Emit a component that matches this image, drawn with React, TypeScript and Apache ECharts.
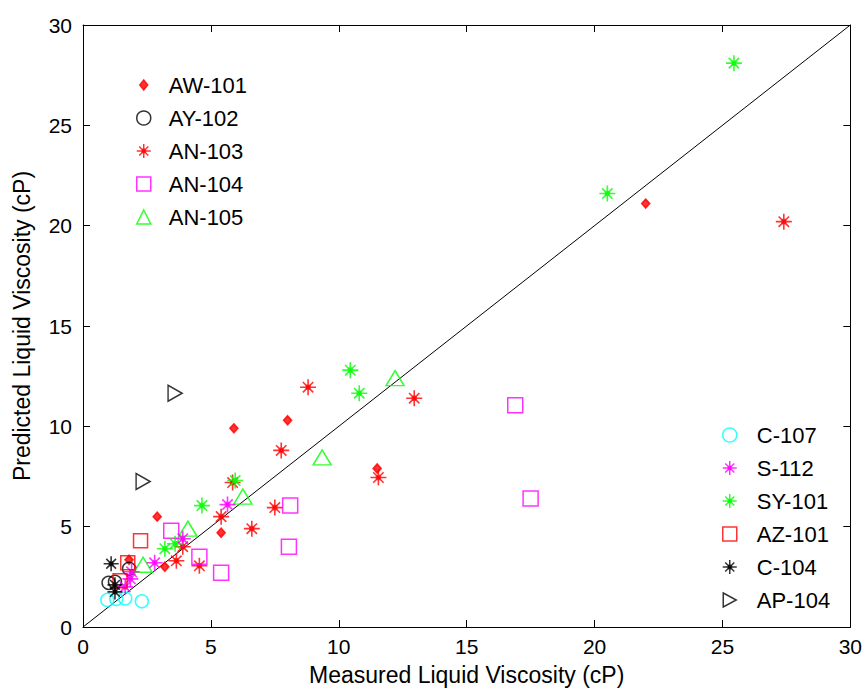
import React, { useEffect, useRef } from "react";
import * as echarts from "echarts";

const FONT = "'Liberation Sans', Arial, sans-serif";

const xTitle = "Measured Liquid Viscosity (cP)";
const yTitle = "Predicted Liquid Viscosity (cP)";

const legendTop = ["AW-101", "AY-102", "AN-103", "AN-104", "AN-105"];
const legendBottom = ["C-107", "S-112", "SY-101", "AZ-101", "C-104", "AP-104"];

const aw101 = [[22.0, 21.1], [5.9, 9.9], [8.0, 10.3], [2.9, 5.5], [5.4, 4.7], [3.2, 3.0], [11.5, 7.9], [1.8, 3.35]];
const ay102 = [[1.0, 2.2], [1.25, 2.25], [1.8, 2.9]];
const an103 = [[27.4, 20.2], [12.95, 11.4], [8.8, 11.95], [7.75, 8.8], [11.55, 7.45], [7.5, 5.95], [6.6, 4.9], [5.4, 5.5], [5.85, 7.2], [4.55, 3.05], [3.65, 3.3], [3.9, 4.0]];
const an104 = [[16.9, 11.05], [17.5, 6.4], [8.1, 6.05], [8.05, 4.0], [3.45, 4.8], [4.55, 3.5], [5.4, 2.7]];
const an105 = [[12.2, 12.4], [9.35, 8.45], [6.25, 6.5], [4.1, 4.9], [2.35, 3.1]];
const c107 = [[0.95, 1.35], [1.3, 1.4], [1.65, 1.42], [2.3, 1.28]];
const s112 = [[5.65, 6.1], [3.9, 4.4], [2.8, 3.2], [1.9, 2.75], [1.85, 2.4], [1.65, 2.0]];
const sy101 = [[25.45, 28.1], [20.5, 21.6], [10.45, 12.8], [10.8, 11.65], [4.65, 6.05], [5.95, 7.3], [3.2, 3.9], [3.6, 4.15]];
const az101 = [[2.25, 4.3], [1.75, 3.2], [1.45, 2.3]];
const c104 = [[1.1, 3.15], [1.25, 2.1], [1.25, 1.75]];
const ap104 = [[3.6, 11.65], [2.35, 7.25]];
const parityLine = [[0, 0], [30, 30]];

const STAR = "path://M0,-10L0,10M-10,0L10,0M-6.5,-6.5L6.5,6.5M-6.5,6.5L6.5,-6.5M-2.5,-2.5L2.5,-2.5L2.5,2.5L-2.5,2.5Z";
const SMALL_DIAMOND_ICON = "path://M-7,-7L-7,-7M7,7L7,7M0,-5L4,0L0,5L-4,0Z";
const RIGHT_TRIANGLE_ICON = "path://M-6,-7L7,0L-6,7Z";

type Spec = { name: string; data: number[][]; symbol: string; size: number | number[]; color: string; hollow: boolean; rotate?: number };

const specs: Spec[] = [
  { name: "AW-101", data: aw101, symbol: "diamond", size: [8, 9], color: "#ff0000", hollow: false },
  { name: "AY-102", data: ay102, symbol: "circle", size: 13, color: "#000000", hollow: true },
  { name: "AN-103", data: an103, symbol: STAR, size: 16, color: "#ff0000", hollow: false },
  { name: "AN-104", data: an104, symbol: "rect", size: 15, color: "#ff00ff", hollow: true },
  { name: "AN-105", data: an105, symbol: "triangle", size: [18, 15], color: "#00ff00", hollow: true },
  { name: "C-107", data: c107, symbol: "circle", size: 13, color: "#00ffff", hollow: true },
  { name: "S-112", data: s112, symbol: STAR, size: 16, color: "#ff00ff", hollow: false },
  { name: "SY-101", data: sy101, symbol: STAR, size: 16, color: "#00ff00", hollow: false },
  { name: "AZ-101", data: az101, symbol: "rect", size: 14, color: "#ff0000", hollow: true },
  { name: "C-104", data: c104, symbol: STAR, size: 15, color: "#000000", hollow: false },
  { name: "AP-104", data: ap104, symbol: "triangle", size: [16, 14], color: "#000000", hollow: true, rotate: -90 },
];

function axisCommon(showLabel: boolean) {
  return {
    type: "value",
    min: 0,
    max: 30,
    interval: 5,
    axisLine: { show: true, onZero: false, lineStyle: { color: "#000", width: 1 } },
    axisTick: { show: true, inside: true, length: 7, lineStyle: { color: "#000", width: 1 } },
    axisLabel: { show: showLabel, color: "#000", fontSize: 21, fontFamily: FONT },
    splitLine: { show: false },
  };
}

export default function App() {
  const ref = useRef<HTMLDivElement>(null);
  useEffect(() => {
    if (!ref.current) return;
    const chart = echarts.init(ref.current, null, { renderer: "svg" });
    const scatter = specs.map((s) => ({
      type: "scatter",
      name: s.name,
      data: s.data,
      symbol: s.symbol,
      symbolSize: s.size,
      symbolRotate: s.rotate || 0,
      itemStyle: s.hollow
        ? { color: "transparent", borderColor: s.color, borderWidth: 1.5 }
        : { color: s.color, borderColor: s.color, borderWidth: 1.6 },
      emphasis: { disabled: true },
      z: 3,
    }));
    const legendItems = (names: string[]) =>
      names.map((n) =>
        n === "AW-101"
          ? { name: n, icon: SMALL_DIAMOND_ICON }
          : n === "AP-104"
          ? { name: n, icon: RIGHT_TRIANGLE_ICON }
          : { name: n }
      );
    const legendCommon = {
      orient: "vertical",
      itemWidth: 14,
      itemHeight: 14,
      itemGap: 11,
      selectedMode: false,
      itemStyle: { borderWidth: 1.5 },
    };
    const legendText = (pad: number) => ({
      color: "#000",
      fontSize: 22,
      fontFamily: FONT,
      lineHeight: 22,
      padding: [0, 0, 0, pad],
    });
    chart.setOption({
      animation: false,
      backgroundColor: "#fff",
      grid: { left: 83, right: 14, top: 25, bottom: 62, containLabel: false },
      xAxis: [
        {
          ...axisCommon(true),
          position: "bottom",
          axisLabel: { show: true, color: "#000", fontSize: 21, fontFamily: FONT, margin: 9 },
          name: xTitle,
          nameLocation: "middle",
          nameGap: 36,
          nameTextStyle: { color: "#000", fontSize: 23, fontFamily: FONT },
        },
        { ...axisCommon(false), position: "top" },
      ],
      yAxis: [
        {
          ...axisCommon(true),
          position: "left",
          axisLabel: { show: true, color: "#000", fontSize: 21, fontFamily: FONT, margin: 11 },
          name: yTitle,
          nameLocation: "middle",
          nameGap: 50,
          nameTextStyle: { color: "#000", fontSize: 23, fontFamily: FONT },
        },
        { ...axisCommon(false), position: "right" },
      ],
      legend: [
        { ...legendCommon, data: legendItems(legendTop), left: 131, top: 69, textStyle: legendText(13) },
        { ...legendCommon, data: legendItems(legendBottom), left: 717, top: 419, textStyle: legendText(15) },
      ],
      series: [
        {
          type: "line",
          data: parityLine,
          showSymbol: false,
          symbol: "none",
          lineStyle: { color: "#000", width: 1 },
          silent: true,
          z: 2,
        },
        ...scatter,
      ],
    });
    return () => chart.dispose();
  }, []);
  return (
    <div
      ref={ref}
      style={{ position: "fixed", left: 0, top: 0, width: 865, height: 691, background: "#fff" }}
    />
  );
}
